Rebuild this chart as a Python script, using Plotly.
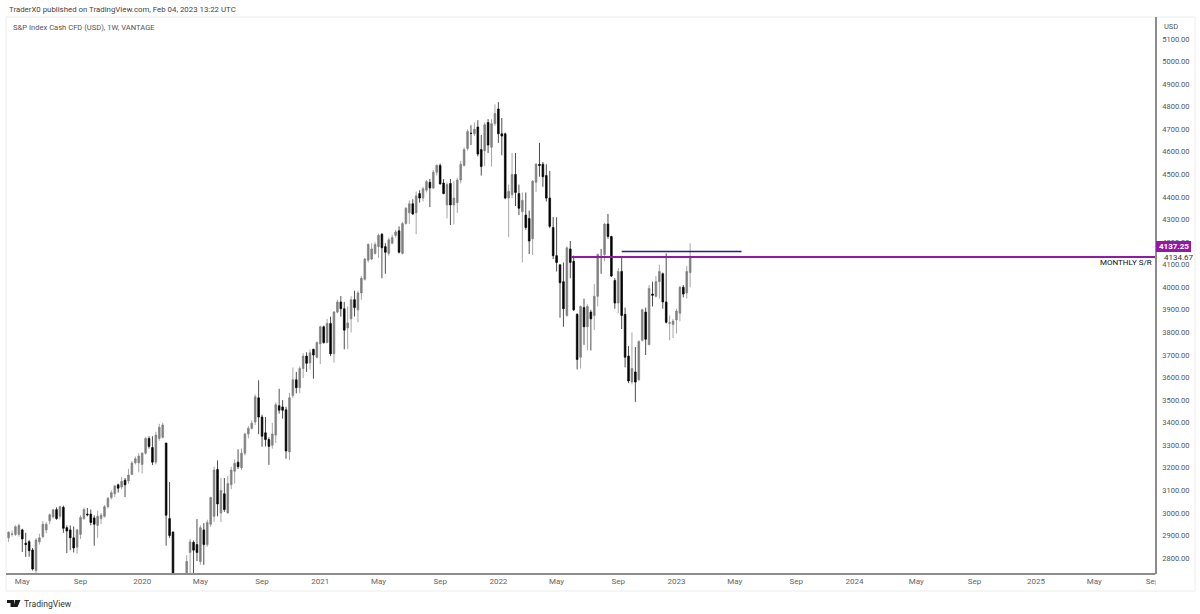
import pandas as pd
import plotly.graph_objects as go

# Weekly S&P 500 CFD bars, Monday-stamped
first_week = "2019-04-08"

opens = [
    2890,2905,2905,2905,2925,2866,2873,2836,2745,2872,
    2895,2925,2965,2982,3015,2985,3025,2935,2925,2890,
    2848,2905,2975,2995,2995,2978,2945,2975,2985,3028,
    3068,3085,3125,3115,3145,3142,3170,3222,3222,3215,
    3265,3330,3290,3225,3330,3335,3310,2975,2916,2640,
    2290,2540,2560,2825,2870,2860,2785,2925,2860,2950,
    2985,3193,3000,3085,3000,3125,3185,3225,3200,3265,
    3350,3375,3403,3510,3425,3355,3325,3300,3345,3475,
    3470,3457,3270,3520,3590,3555,3640,3695,3665,3725,
    3690,3750,3825,3755,3840,3705,3890,3935,3905,3820,
    3860,3945,3900,3975,4035,4120,4125,4150,4180,4235,
    4180,4150,4195,4230,4250,4150,4282,4330,4370,4330,
    4415,4395,4430,4465,4440,4510,4540,4462,4365,4460,
    4365,4375,4475,4540,4615,4682,4680,4710,4610,4605,
    4730,4620,4725,4790,4680,4680,4395,4410,4500,4415,
    4335,4320,4305,4215,4465,4545,4545,4495,4395,4265,
    4140,4100,4025,3875,4170,4115,3880,3690,3910,3825,
    3890,3875,3960,4135,4145,4280,4225,4030,3930,4070,
    3880,3695,3580,3625,3590,3765,3890,3745,3970,3960,
    4025,4060,3935,3840,3835,3855,3885,4000,3975,4065,
]
highs = [
    2918,2922,2945,2953,2930,2912,2880,2845,2888,2908,
    2965,2960,2998,3018,3025,3032,3032,2945,2945,2940,
    2930,2990,3024,3022,3015,2990,3010,3000,3035,3070,
    3100,3125,3130,3160,3155,3195,3230,3250,3265,3270,
    3338,3340,3340,3360,3395,3400,3310,3137,2916,2640,
    2640,2640,2813,2885,2878,2973,2945,2955,2970,3072,
    3205,3233,3155,3155,3165,3205,3237,3282,3285,3355,
    3385,3410,3525,3588,3435,3425,3335,3399,3490,3550,
    3500,3470,3532,3645,3625,3650,3708,3712,3725,3728,
    3760,3830,3830,3860,3870,3895,3945,3961,3935,3915,
    3960,3985,3985,4050,4130,4195,4195,4200,4238,4240,
    4195,4220,4232,4255,4270,4290,4355,4385,4390,4424,
    4430,4445,4475,4480,4520,4545,4548,4480,4465,4480,
    4470,4485,4560,4620,4700,4718,4730,4740,4675,4730,
    4745,4745,4810,4820,4750,4685,4455,4595,4595,4455,
    4420,4420,4340,4475,4550,4640,4555,4545,4515,4311,
    4310,4100,4110,4180,4205,4140,3885,3920,3950,3925,
    3900,4015,4150,4170,4285,4325,4228,4040,4085,4135,
    3910,3740,3800,3735,3765,3905,3910,4010,4025,4050,
    4100,4065,4150,3875,3860,3905,4005,4010,4095,4195,
]
lows = [
    2872,2895,2898,2895,2827,2805,2806,2745,2728,2860,
    2888,2910,2950,2975,2970,2972,2912,2822,2835,2825,
    2820,2885,2970,2985,2945,2855,2890,2950,2980,3020,
    3060,3070,3090,3105,3070,3130,3170,3215,3180,3175,
    3258,3285,3212,3215,3320,3330,2855,2890,2480,2280,
    2190,2440,2550,2720,2725,2787,2770,2770,2850,2938,
    2960,2985,2960,3005,2998,3105,3130,3195,3190,3255,
    3330,3370,3390,3349,3293,3295,3213,3285,3310,3440,
    3418,3240,3235,3510,3530,3530,3598,3625,3635,3595,
    3685,3660,3750,3752,3695,3666,3885,3870,3725,3727,
    3800,3870,3845,3945,4030,4110,4120,4145,4130,4040,
    4060,4140,4190,4220,4150,4145,4278,4280,4320,4235,
    4375,4380,4420,4355,4435,4495,4455,4412,4305,4276,
    4278,4330,4460,4535,4605,4630,4670,4580,4495,4537,
    4595,4535,4715,4640,4585,4390,4222,4395,4360,4320,
    4110,4255,4147,4143,4422,4490,4445,4380,4262,4125,
    4070,3865,3825,3870,4040,3895,3636,3640,3745,3720,
    3720,3810,3915,4060,4115,4215,4045,3905,3885,3815,
    3645,3575,3570,3492,3585,3760,3700,3745,3915,3955,
    3950,3905,3840,3765,3775,3795,3850,3955,3950,4000,
]
closes = [
    2915,2907,2939,2945,2885,2860,2833,2752,2880,2890,
    2950,2950,2992,3014,2975,3028,2932,2920,2890,2845,
    2925,2980,3015,2992,2958,2950,2985,2990,3028,3065,
    3090,3120,3110,3140,3125,3168,3221,3240,3252,3265,
    3330,3295,3225,3345,3380,3390,2990,2900,2640,2290,
    2540,2490,2785,2872,2835,2825,2935,2860,2958,3068,
    3190,3040,3100,3015,3130,3190,3220,3205,3265,3350,
    3375,3398,3515,3425,3340,3325,3295,3350,3480,3455,
    3455,3275,3510,3590,3555,3640,3695,3663,3710,3700,
    3755,3825,3755,3840,3705,3890,3935,3905,3810,3842,
    3945,3910,3975,4040,4125,4190,4170,4190,4230,4175,
    4155,4210,4220,4245,4155,4282,4350,4370,4325,4405,
    4395,4437,4468,4440,4510,4540,4458,4415,4455,4365,
    4395,4475,4545,4610,4690,4682,4700,4590,4535,4720,
    4630,4725,4770,4680,4670,4395,4425,4500,4420,4350,
    4385,4265,4205,4470,4545,4540,4490,4395,4270,4140,
    4110,4020,3905,4175,4110,3900,3680,3915,3825,3915,
    3860,3960,4145,4135,4280,4225,4050,3930,4070,3875,
    3690,3585,3640,3580,3760,3900,3770,3995,3965,4025,
    4070,3935,3845,3843,3850,3895,4000,3970,4070,4137.25,
]

tick_dates = [
    "2019-05-06","2019-09-02","2020-01-06","2020-05-04","2020-09-07",
    "2021-01-04","2021-05-03","2021-09-06","2022-01-03","2022-05-02",
    "2022-09-05","2023-01-02","2023-05-01","2023-09-04","2024-01-01",
    "2024-05-06","2024-09-02","2025-01-06","2025-05-05","2025-09-01",
]
tick_labels = [
    "May","Sep","2020","May","Sep","2021","May","Sep","2022","May",
    "Sep","2023","May","Sep","2024","May","Sep","2025","May","Sep",
]
price_ticks = [2800 + 100 * k for k in range(24)]

# Drawn horizontal levels
monthly_level = 4134.67
monthly_dates = ["2022-06-01", "2025-10-01"]
upper_level = 4158
upper_dates = ["2022-09-12", "2023-05-15"]
last_close = 4137.25

weeks = pd.date_range(first_week, periods=len(closes), freq="7D")
W, H = 1200, 614
LEFT, RIGHT, TOP, BOTTOM = 6, 1155, 17, 573
FONT = "Roboto"
PURPLE = "#9418a6"


def px(x):
    return (x - LEFT) / (RIGHT - LEFT)


def py(y):
    return (BOTTOM - y) / (BOTTOM - TOP)


def label(text, x, y, size=8, color="#555555", anchor="left", bold=False):
    return dict(
        text=f"<b>{text}</b>" if bold else text,
        x=px(x), y=py(y), xref="paper", yref="paper", showarrow=False,
        xanchor=anchor, yanchor="middle",
        font=dict(family=FONT, size=size, color=color),
    )


def box(x0, y0, x1, y1, fill=None, line=None, layer="above", width=1):
    return dict(
        type="rect", xref="paper", yref="paper", layer=layer,
        x0=px(x0), x1=px(x1), y0=py(y0), y1=py(y1),
        fillcolor=fill if fill else "rgba(0,0,0,0)",
        line=dict(color=line if line else "rgba(0,0,0,0)", width=width if line else 0),
    )


def path(points, fill):
    d = "M " + " L ".join(f"{px(a):.5f},{py(b):.5f}" for a, b in points) + " Z"
    return dict(type="path", xref="paper", yref="paper", path=d, fillcolor=fill, line=dict(width=0))


fig = go.Figure()
fig.add_trace(go.Candlestick(
    x=weeks, open=opens, high=highs, low=lows, close=closes,
    increasing=dict(line=dict(color="#7f7f7f", width=0.7), fillcolor="#7f7f7f"),
    decreasing=dict(line=dict(color="#000000", width=0.7), fillcolor="#000000"),
    hoverinfo="skip", showlegend=False,
))
fig.add_trace(go.Scatter(
    x=upper_dates, y=[upper_level, upper_level], mode="lines",
    line=dict(color="#1c1caa", width=1.5), hoverinfo="skip", showlegend=False,
))
fig.add_trace(go.Scatter(
    x=monthly_dates, y=[monthly_level, monthly_level], mode="lines",
    line=dict(color=PURPLE, width=2), hoverinfo="skip", showlegend=False,
))

# Date range that puts the plot edges just left of the first week and well past the last
x_start = pd.Timestamp(first_week) - pd.Timedelta(days=5.3)
x_end = pd.Timestamp(first_week) + pd.Timedelta(days=2343)

shapes = [
    box(6, 17, 1195, 591, line="#ececec", layer="below"),
    box(1155.5, 574, 1165, 590, fill="#ffffff"),
    box(1156, 241, 1191, 252, fill=PURPLE),
    # TradingView mark
    path([(7, 600), (14, 600), (14, 607), (10.5, 607), (10.5, 603), (7, 603)], "#1a1a1a"),
    path([(15, 600), (20.5, 600), (17.5, 607), (13.5, 607)], "#1a1a1a"),
]

annotations = [
    label("TraderX0 published on TradingView.com, Feb 04, 2023 13:22 UTC", 7, 9, size=7.85, color="#444444"),
    label("S&amp;P Index Cash CFD (USD), 1W, VANTAGE", 11, 27, size=7.6, color="#555555"),
    label("USD", 1162, 26, size=7.5, color="#555555"),
    label(f"{last_close:.2f}", 1173.5, 246.7, size=8, color="#ffffff", anchor="center", bold=True),
    label(f"{monthly_level:.2f}", 1162, 257.5, size=8, color="#333333"),
    label("MONTHLY S/R", 1154, 262.5, size=8, color="#111111", anchor="right"),
    label("TradingView", 22, 603.5, size=8.6, color="#333333"),
]

fig.update_layout(
    width=W, height=H, autosize=False,
    margin=dict(l=LEFT, r=W - RIGHT, t=TOP, b=H - BOTTOM, pad=0),
    paper_bgcolor="#ffffff", plot_bgcolor="#ffffff",
    showlegend=False,
    shapes=shapes, annotations=annotations,
    font=dict(family=FONT, size=8, color="#555555"),
    xaxis=dict(
        type="date", range=[x_start, x_end], rangeslider=dict(visible=False),
        tickmode="array", tickvals=tick_dates, ticktext=tick_labels,
        showgrid=False, zeroline=False, ticks="",
        showline=True, linecolor="#8c8c8c", linewidth=1.5,
        tickfont=dict(family=FONT, size=8, color="#666666"),
    ),
    yaxis=dict(
        side="right", range=[2734, 5197.5],
        tickmode="array", tickvals=price_ticks,
        ticktext=[f"{v:.2f}" for v in price_ticks],
        showgrid=False, zeroline=False, ticks="",
        ticklabelstandoff=4,
        showline=True, linecolor="#8c8c8c", linewidth=1.5,
        tickfont=dict(family=FONT, size=7.5, color="#555555"),
    ),
)

fig.write_html("out.html")
